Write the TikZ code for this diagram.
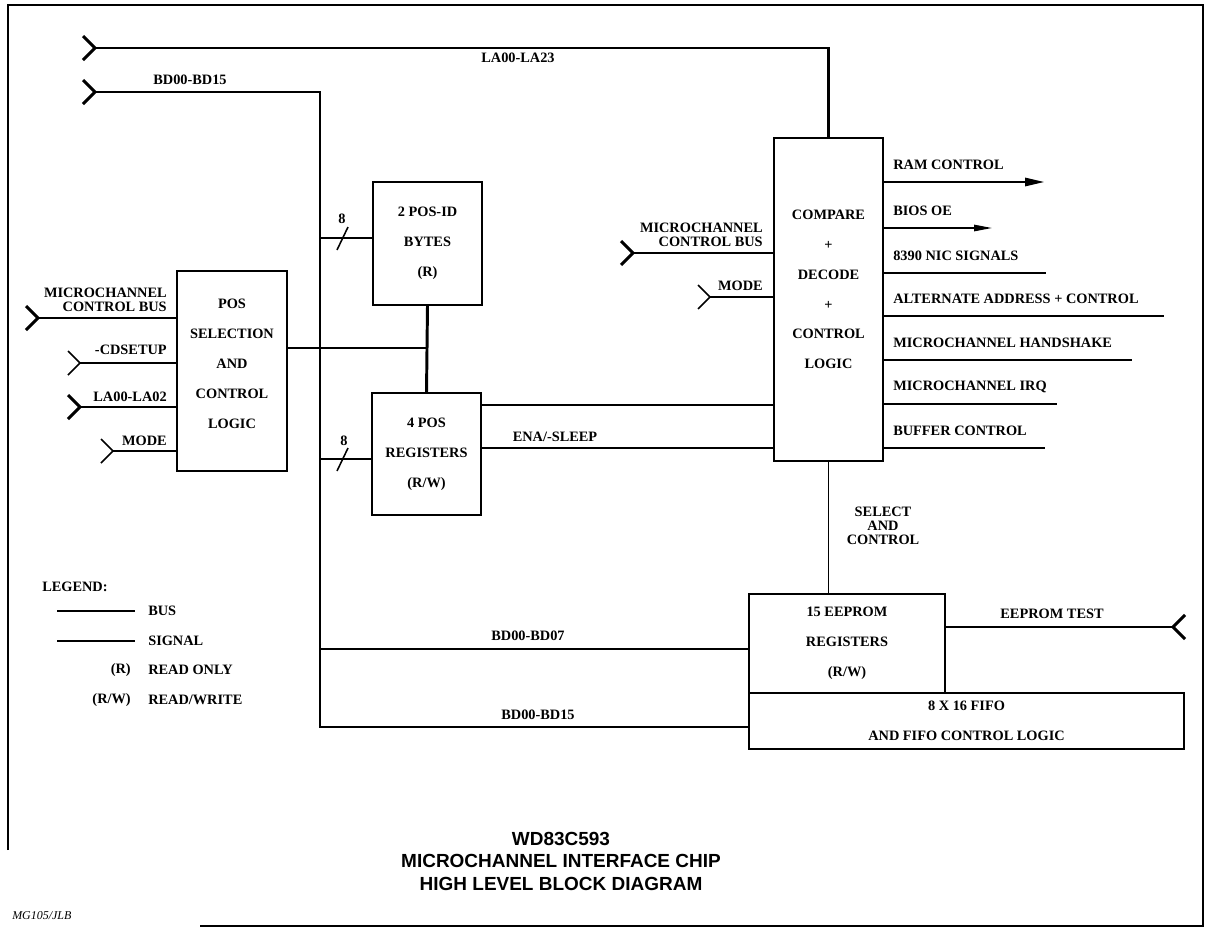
\documentclass[tikz,border=0pt]{standalone}
\usepackage{fontspec}
\setmainfont{Liberation Serif}
\newfontfamily\titlefont{Liberation Sans}
\usetikzlibrary{arrows.meta, calc}

\begin{document}
\begin{tikzpicture}[
  x=0.025cm, y=-0.025cm,
  blk/.style={rectangle, draw, line width=1.2pt, inner sep=0pt, outer sep=0pt, align=center, font=\fontsize{10.2}{21.2}\selectfont\bfseries},
  bus/.style={line width=2.1pt},
  sig/.style={line width=1.1pt},
  ramarr/.style={bus, -{Triangle[length=0.5cm, width=0.2cm]}},
  biosarr/.style={sig, -{Triangle[length=0.45cm, width=0.16cm]}},
  lbl/.style={inner sep=0pt, align=center, font=\fontsize{10.2}{10}\selectfont\bfseries},
  port/.pic={\draw (-12,-12) -- (0,0) -- (-12,12);}
]
  \useasboundingbox (0,0) rectangle (1207,928);
  % frame
  \draw[line width=1.2pt] (8,850) -- (8,5) -- (1203,5) -- (1203,926) -- (200,926);

  % blocks
  \node[blk, minimum width=2.75cm, minimum height=5cm] (possel) at (232,371) {POS\\SELECTION\\AND\\CONTROL\\LOGIC\\[-11pt]};
  \node[blk, minimum width=2.725cm, minimum height=3.075cm] (posid) at (427.5,243.5) {2 POS-ID\\BYTES\\(R)};
  \node[blk, minimum width=2.725cm, minimum height=3.05cm] (posreg) at (426.5,454) {4 POS\\REGISTERS\\(R/W)};
  \node[blk, minimum width=2.725cm, minimum height=8.075cm] (compare) at (828.5,299.5) {COMPARE\\+\\DECODE\\+\\CONTROL\\LOGIC\\[-7pt]};
  \node[blk, minimum width=4.9cm, minimum height=2.475cm] (eeprom) at (847,643.5) {15 EEPROM\\REGISTERS\\(R/W)};
  \node[blk, minimum width=10.875cm, minimum height=1.4cm] (fifo) at (966.5,721) {8 X 16 FIFO\\AND FIFO CONTROL LOGIC};

  % system bus inputs
  \coordinate (la) at (95,48);
  \coordinate (bd) at (95,92);
  \coordinate (bdbot) at (320,727);
  \pic[bus] at (la) {port};
  \pic[bus] at (bd) {port};
  \draw[bus] (la) -| (compare.north);
  \draw[bus] (bd) -| (bdbot) -- (fifo.west |- bdbot);
  \draw[bus] (bdbot |- 0,649) -- (eeprom.west |- 0,649);
  \node[lbl] (lalbl) at (518,58) {LA00-LA23};
  \node[lbl] (bdlbl) at (190,80) {BD00-BD15};
  \node[lbl] (bd07lbl) at (528,636) {BD00-BD07};
  \node[lbl] (bd15lbl) at (538,715) {BD00-BD15};

  % 8 bit taps
  \coordinate (s1) at (343,238);
  \coordinate (s2) at (343,459);
  \draw[bus] (bdbot |- s1) -- (posid.west |- s1);
  \draw[bus] (bdbot |- s2) -- (posreg.west |- s2);
  \draw[sig] ($(s1)+(-6,12)$) -- ($(s1)+(5,-11)$);
  \draw[sig] ($(s2)+(-6,12)$) -- ($(s2)+(5,-11)$);
  \node[lbl] (n8a) at (342,219) {8};
  \node[lbl] (n8b) at (344,441) {8};

  % POS selection inputs
  \coordinate (mcb1) at (38,318);
  \coordinate (cds) at (80,363);
  \coordinate (la02) at (80,407);
  \coordinate (mode1) at (113,451);
  \pic[bus] at (mcb1) {port};
  \pic[sig] at (cds) {port};
  \pic[bus] at (la02) {port};
  \pic[sig] at (mode1) {port};
  \draw[bus] (mcb1) -- (possel.west |- mcb1);
  \draw[sig] (cds) -- (possel.west |- cds);
  \draw[bus] (la02) -- (possel.west |- la02);
  \draw[sig] (mode1) -- (possel.west |- mode1);
  \node[lbl, anchor=east, align=right] (mcb1lbl) at (167,300) {MICROCHANNEL\\CONTROL BUS};
  \node[lbl, anchor=east] (cdslbl) at (167,350) {-CDSETUP};
  \node[lbl, anchor=east] (la02lbl) at (167,397) {LA00-LA02};
  \node[lbl, anchor=east] (mode1lbl) at (167,441) {MODE};

  % internal links
  \coordinate (jn) at (posid.south |- 0,348);
  \draw[bus] (possel.east |- jn) -- (jn);
  \draw[bus] (posid.south) -- (posreg.north);
  \draw[bus] (posreg.east |- 0,405) -- (compare.west |- 0,405);
  \draw[sig] (posreg.east |- 0,448) -- (compare.west |- 0,448);
  \node[lbl] (enalbl) at (555,437) {ENA/-SLEEP};

  % compare inputs
  \coordinate (mcb2) at (633,253);
  \coordinate (mode2) at (710,297);
  \pic[bus] at (mcb2) {port};
  \pic[sig] at (mode2) {port};
  \draw[bus] (mcb2) -- (compare.west |- mcb2);
  \draw[sig] (mode2) -- (compare.west |- mode2);
  \node[lbl, anchor=east, align=right] (mcb2lbl) at (763,234.5) {MICROCHANNEL\\CONTROL BUS};
  \node[lbl, anchor=east] (mode2lbl) at (763,286) {MODE};

  % compare outputs
  \foreach \yy/\xe/\st/\txt in {182/1045/ramarr/RAM CONTROL, 228/992/biosarr/BIOS OE,
      273/1046/bus/8390 NIC SIGNALS, 316/1164/sig/ALTERNATE ADDRESS + CONTROL,
      360/1132/sig/MICROCHANNEL HANDSHAKE, 404/1057/bus/MICROCHANNEL IRQ,
      448/1045/bus/BUFFER CONTROL}{
    \draw[\st] (compare.east |- 0,\yy) -- (\xe,\yy);
    \node[lbl, anchor=west] (out\yy) at (893,\yy-17) {\txt};
  }

  % select and control
  \draw[sig] (compare.south) -- (compare.south |- eeprom.north);
  \node[lbl] (sellbl) at (883,526) {SELECT\\AND\\CONTROL};

  % eeprom test
  \coordinate (etest) at (1173,627);
  \pic[bus, rotate=180] at (etest) {port};
  \draw[bus] (eeprom.east |- etest) -- (etest);
  \node[lbl] (etestlbl) at (1052,614) {EEPROM TEST};

  % legend
  \node[lbl, anchor=west] (leg) at (42,587) {LEGEND:};
  \coordinate (lbus) at (57,611);
  \coordinate (lsig) at (57,641);
  \draw[bus] (lbus) -- ++(78,0);
  \draw[sig] (lsig) -- ++(78,0);
  \node[lbl, anchor=west] (legbus) at (148,611) {BUS};
  \node[lbl, anchor=west] (legsig) at (148,641) {SIGNAL};
  \node[lbl, anchor=east] (legr) at (131,670) {(R)};
  \node[lbl, anchor=west] (legrt) at (148,670) {READ ONLY};
  \node[lbl, anchor=east] (legrw) at (131,700) {(R/W)};
  \node[lbl, anchor=west] (legrwt) at (148,700) {READ/WRITE};

  % title
  \node[inner sep=0pt, align=center, font=\titlefont\fontsize{13.5}{16}\selectfont\bfseries] (title) at (561,861)
    {WD83C593\\MICROCHANNEL INTERFACE CHIP\\HIGH LEVEL BLOCK DIAGRAM};
  \node[inner sep=0pt, anchor=west, font=\fontsize{8.5}{10}\selectfont\itshape] (ref) at (12,916) {MG105/JLB};
\end{tikzpicture}
\end{document}
